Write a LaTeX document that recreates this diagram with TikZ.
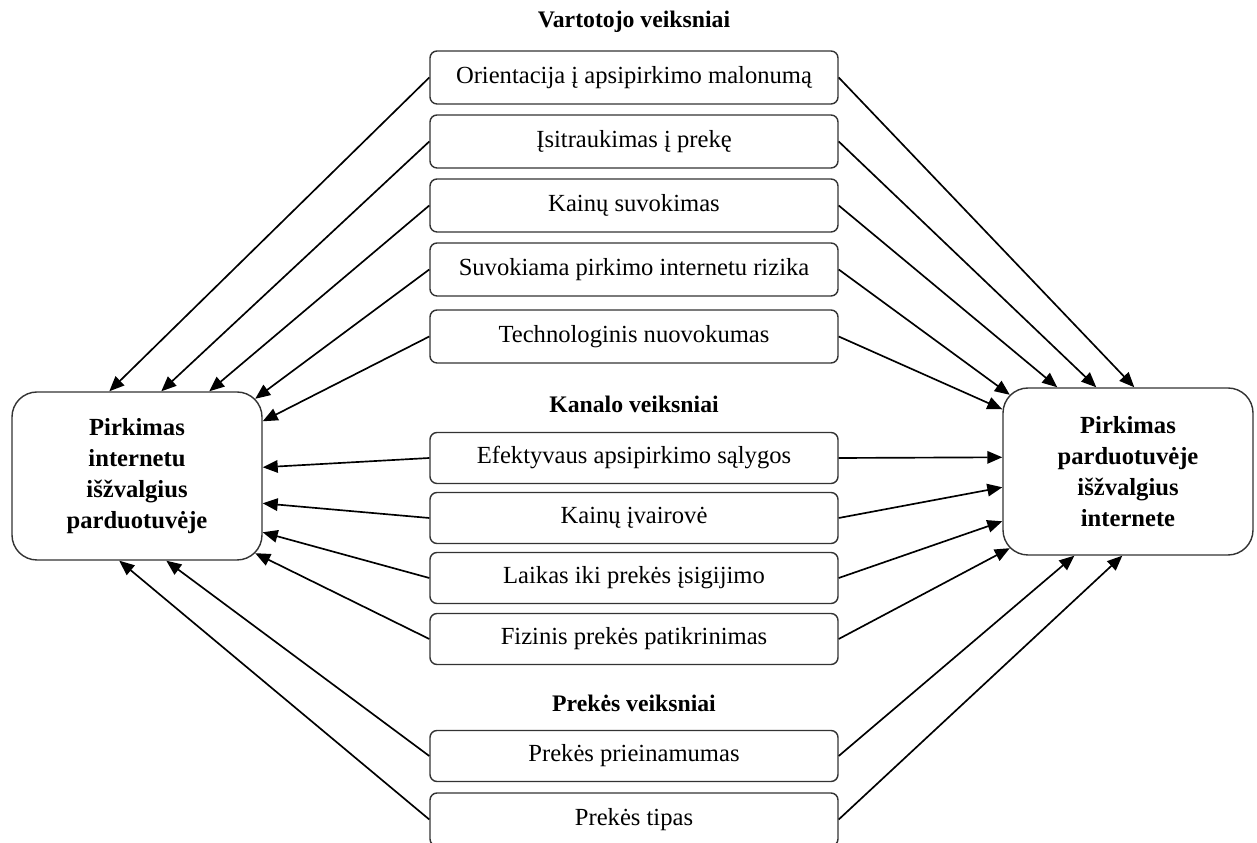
\documentclass[tikz,border=0pt]{standalone}
\usepackage{fontspec}
\setmainfont{Liberation Serif}
\usetikzlibrary{arrows.meta, positioning, calc}

\begin{document}
\begin{tikzpicture}[
  x=1cm, y=1cm,
  veiksnys/.style={
    draw=black!80, rounded corners=4pt, line width=0.8pt, fill=white,
    minimum width=8.16cm, minimum height=1.06cm, inner sep=0pt,
    font=\fontsize{14}{16}\selectfont
  },
  pirkimas/.style={
    draw=black!80, rounded corners=0.5cm, line width=0.8pt, fill=white,
    minimum width=5.0cm, minimum height=3.36cm, align=center,
    font=\fontsize{14}{17.5}\selectfont\bfseries
  },
  grupe/.style={font=\fontsize{13.5}{15}\selectfont\bfseries},
  rodykle/.style={
    -{Triangle[length=3mm, width=2.5mm]},
    draw=black, line width=0.95pt
  }
]
\useasboundingbox (0,0) rectangle (25.14,16.86);

% ----- didieji blokai -----
\node[pirkimas] (L) at (2.74, 7.34)
  {Pirkimas\\internetu\\išžvalgius\\parduotuvėje};
\node[pirkimas, minimum height=3.34cm] (R) at (22.56, 7.43)
  {Pirkimas\\parduotuvėje\\išžvalgius\\internete};

% ----- Vartotojo veiksniai -----
\node[grupe] (vart) at (12.68, 16.42) {Vartotojo veiksniai};
\node[veiksnys] (v1) at (12.68, 15.31) {Orientacija į apsipirkimo malonumą};
\node[veiksnys] (v2) at (12.68, 14.03) {Įsitraukimas į prekę};
\node[veiksnys] (v3) at (12.68, 12.75) {Kainų suvokimas};
\node[veiksnys] (v4) at (12.68, 11.47) {Suvokiama pirkimo internetu rizika};
\node[veiksnys] (v5) at (12.68, 10.13) {Technologinis nuovokumas};

% ----- Kanalo veiksniai -----
\node[grupe] (kan) at (12.68, 8.78) {Kanalo veiksniai};
\node[veiksnys, minimum height=1.02cm] (k1) at (12.68, 7.70) {Efektyvaus apsipirkimo sąlygos};
\node[veiksnys, minimum height=1.02cm] (k2) at (12.68, 6.50) {Kainų įvairovė};
\node[veiksnys, minimum height=1.02cm] (k3) at (12.68, 5.30) {Laikas iki prekės įsigijimo};
\node[veiksnys, minimum height=1.02cm] (k4) at (12.68, 4.08) {Fizinis prekės patikrinimas};

% ----- Prekės veiksniai -----
\node[grupe] (prek) at (12.68, 2.80) {Prekės veiksniai};
\node[veiksnys, minimum height=1.02cm] (p1) at (12.68, 1.74) {Prekės prieinamumas};
\node[veiksnys] (p2) at (12.68, 0.47) {Prekės tipas};

% rodyklės i kaire
\draw[rodykle] (v1.west) -- ([xshift=1.96cm]L.north west);
\draw[rodykle] (v2.west) -- ([xshift=3.0cm]L.north west);
\draw[rodykle] (v3.west) -- ([xshift=3.96cm]L.north west);
\draw[rodykle] (v4.west) -- ([shift={(-0.15,-0.15)}]L.north east);
\draw[rodykle] (v5.west) -- ([yshift=-0.6cm]L.north east);
\draw[rodykle] (k1.west) -- ([yshift=-1.52cm]L.north east);
\draw[rodykle] (k2.west) -- ([yshift=-2.24cm]L.north east);
\draw[rodykle] (k3.west) -- ([yshift=-2.82cm]L.north east);
\draw[rodykle] (k4.west) -- ([shift={(-0.15,0.15)}]L.south east);
\draw[rodykle] (p1.west) -- ([xshift=3.1cm]L.south west);
\draw[rodykle] (p2.west) -- ([xshift=2.16cm]L.south west);

% rodyklės i desine
\draw[rodykle] (v1.east) -- ([xshift=2.64cm]R.north west);
\draw[rodykle] (v2.east) -- ([xshift=1.88cm]R.north west);
\draw[rodykle] (v3.east) -- ([xshift=1.1cm]R.north west);
\draw[rodykle] (v4.east) -- ([shift={(0.15,-0.15)}]R.north west);
\draw[rodykle] (v5.east) -- ([yshift=-0.44cm]R.north west);
\draw[rodykle] (k1.east) -- ([yshift=-1.4cm]R.north west);
\draw[rodykle] (k2.east) -- ([yshift=-2.0cm]R.north west);
\draw[rodykle] (k3.east) -- ([yshift=-2.68cm]R.north west);
\draw[rodykle] (k4.east) -- ([shift={(0.15,0.15)}]R.south west);
\draw[rodykle] (p1.east) -- ([xshift=1.44cm]R.south west);
\draw[rodykle] (p2.east) -- ([xshift=2.4cm]R.south west);

\end{tikzpicture}
\end{document}
